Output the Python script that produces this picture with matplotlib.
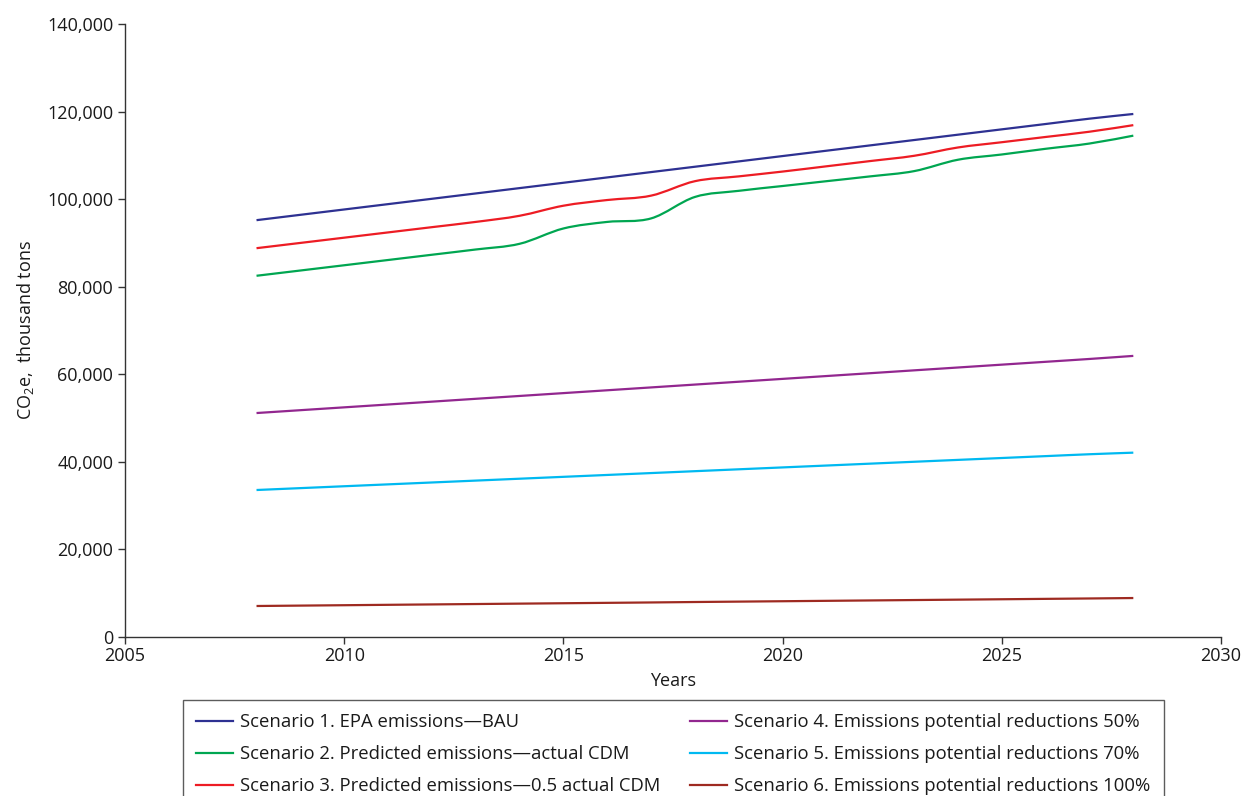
import matplotlib
matplotlib.use("Agg")
import matplotlib.pyplot as plt
from matplotlib.ticker import FuncFormatter
from matplotlib.path import Path
from matplotlib.patches import PathPatch
from matplotlib.lines import Line2D

plt.rcParams['font.family'] = ['Open Sans', 'DejaVu Sans']
plt.rcParams['mathtext.default'] = 'regular'

years = [2008, 2009, 2010, 2011, 2012, 2013, 2014, 2015, 2016, 2017, 2018,
         2019, 2020, 2021, 2022, 2023, 2024, 2025, 2026, 2027, 2028]

s1 = [95200, 96420, 97640, 98860, 100080, 101300, 102520, 103740, 104960, 106180, 107400,
      108620, 109840, 111060, 112280, 113500, 114720, 115940, 117160, 118380, 119450]
s2 = [82500, 83700, 84900, 86100, 87300, 88500, 89800, 93300, 94800, 95600, 100500,
      101900, 103000, 104100, 105200, 106400, 109000, 110200, 111500, 112700, 114500]
s3 = [88800, 90000, 91200, 92400, 93600, 94800, 96200, 98500, 99800, 100800, 104100,
      105200, 106300, 107500, 108700, 109900, 111800, 113000, 114200, 115400, 116900]
s4 = [51150, 51800, 52450, 53100, 53750, 54400, 55050, 55700, 56350, 57000, 57650,
      58300, 58950, 59600, 60250, 60900, 61550, 62200, 62850, 63500, 64200]
s5 = [33570, 34000, 34430, 34860, 35290, 35720, 36150, 36580, 37010, 37440, 37870,
      38300, 38730, 39160, 39590, 40020, 40450, 40880, 41310, 41740, 42100]
s6 = [7080, 7170, 7260, 7350, 7440, 7530, 7620, 7710, 7800, 7890, 7990,
      8080, 8170, 8260, 8350, 8440, 8530, 8620, 8710, 8800, 8900]

labels = ["Scenario 1. EPA emissions\u2014BAU",
          "Scenario 2. Predicted emissions\u2014actual CDM",
          "Scenario 3. Predicted emissions\u20140.5 actual CDM",
          "Scenario 4. Emissions potential reductions 50%",
          "Scenario 5. Emissions potential reductions 70%",
          "Scenario 6. Emissions potential reductions 100%"]
colors = ["#2E3192", "#00A651", "#ED1C24", "#92278F", "#00B9F1", "#9E2A21"]

xticks = [2005, 2010, 2015, 2020, 2025, 2030]
yticks = [0, 20000, 40000, 60000, 80000, 100000, 120000, 140000]

FS = 13
LFS = 13.3
TXT = '#1a1a1a'
AX = '#333333'


def smooth_path(xs, ys):
    """Excel-style smoothed line through the data points (cubic Bezier segments)."""
    n = len(xs)
    verts = [(xs[0], ys[0])]
    codes = [Path.MOVETO]
    for i in range(n - 1):
        x0, y0 = (xs[i - 1], ys[i - 1]) if i > 0 else (xs[i], ys[i])
        x1, y1 = xs[i], ys[i]
        x2, y2 = xs[i + 1], ys[i + 1]
        x3, y3 = (xs[i + 2], ys[i + 2]) if i + 2 < n else (xs[i + 1], ys[i + 1])
        c1 = (x1 + (x2 - x0) / 6.0, y1 + (y2 - y0) / 6.0)
        c2 = (x2 - (x3 - x1) / 6.0, y2 - (y3 - y1) / 6.0)
        verts += [c1, c2, (x2, y2)]
        codes += [Path.CURVE4] * 3
    return Path(verts, codes)


fig = plt.figure(figsize=(12.45, 7.96), dpi=100)
ax = fig.add_axes([125/1245, 1 - 637/796, (1221 - 125)/1245, (637 - 24)/796])

handles = []
for ys, c, lab in zip([s1, s2, s3, s4, s5, s6], colors, labels):
    patch = PathPatch(smooth_path(years, ys), facecolor='none', edgecolor=c,
                      lw=1.6, capstyle='butt', joinstyle='round')
    ax.add_patch(patch)
    handles.append(Line2D([], [], color=c, lw=1.6, label=lab))

ax.set_xlim(2005, 2030)
ax.set_ylim(0, 140000)
ax.set_xticks(xticks)
ax.set_yticks(yticks)
ax.yaxis.set_major_formatter(FuncFormatter(lambda v, p: f"{int(v):,}"))
for s in ['top', 'right']:
    ax.spines[s].set_visible(False)
for s in ['left', 'bottom']:
    ax.spines[s].set_color(AX)
    ax.spines[s].set_linewidth(1.0)
ax.tick_params(axis='both', direction='out', length=5, width=1.0, color=AX,
               labelsize=FS, labelcolor=TXT)
ax.tick_params(axis='x', pad=2)
ax.set_xlabel("Years", fontsize=FS, color=TXT, labelpad=5)
ax.set_ylabel("CO$_2$e,  thousand tons", fontsize=FS, color=TXT, labelpad=8)

leg = fig.legend(handles=handles, ncol=2, loc='upper left',
                 bbox_to_anchor=(183/1245, 1 - 700/796), borderaxespad=0,
                 frameon=True, fancybox=False, edgecolor=AX,
                 fontsize=LFS, handlelength=2.0, handletextpad=0.38,
                 columnspacing=1.62, labelspacing=0.75, borderpad=0.72)
leg.get_frame().set_linewidth(1.0)
for t in leg.get_texts():
    t.set_color(TXT)

fig.savefig("out.png", dpi=100)
